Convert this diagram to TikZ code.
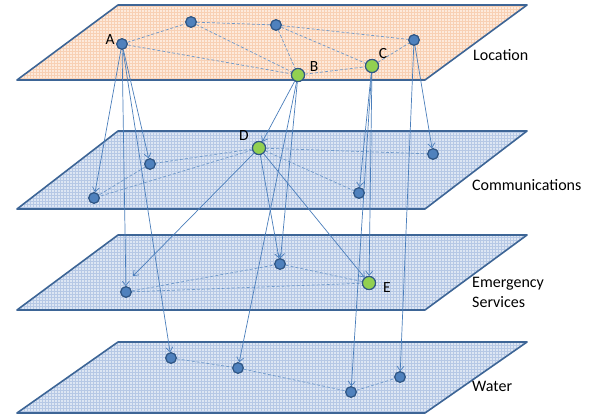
\documentclass[tikz,border=0pt]{standalone}
\usepackage{fontspec}
\setmainfont{Carlito}
\usetikzlibrary{arrows.meta}
\definecolor{edgecol}{HTML}{4A7EBB}
\definecolor{planeborder}{HTML}{3D6596}
\definecolor{orangefill}{HTML}{FDEADC}
\definecolor{orangegrid}{HTML}{F8D0B4}
\definecolor{bluefill}{HTML}{DDE6F3}
\definecolor{bluegrid}{HTML}{B6C8E5}
\definecolor{nodeblue}{HTML}{4F81BD}
\definecolor{nodegreen}{HTML}{92D050}
\definecolor{nodeborder}{HTML}{2F5685}
\newcommand{\drawlayer}[4]{%
  \begin{scope}
    \clip (17,#2) -- (425,#2) -- (527,#1) -- (118,#1) -- cycle;
    \fill[#3] (0,0) rectangle (600,417);
    \draw[#4,line width=0.3pt] (0,0) grid[step=3pt] (600,417);
  \end{scope}
  \draw[planeborder,line width=1.6pt,line join=round] (17,#2) -- (425,#2) -- (527,#1) -- (118,#1) -- cycle;
}
\begin{document}
\begin{tikzpicture}[x=1pt,y=-1pt,
  vnode/.style={circle,draw=nodeborder,line width=1.1pt,fill=nodeblue,minimum size=10.5pt,inner sep=0pt},
  gnode/.style={circle,draw=nodeborder,line width=1.1pt,fill=nodegreen,minimum size=13pt,inner sep=0pt},
  link/.style={draw=edgecol,line width=0.7pt,-{Straight Barb[length=4.5pt,width=7pt]}},
  intra/.style={draw=edgecol!80,line width=0.7pt,dash pattern=on 3pt off 2pt},
  lbl/.style={font=\fontsize{15.5}{18}\selectfont,text=black,inner sep=0pt},
  layername/.style={font=\fontsize{16}{20}\selectfont,text=black,inner sep=0pt,anchor=west,align=left},
]
\useasboundingbox (0,0) rectangle (600,417);
\fill[white] (0,0) rectangle (600,417);

\drawlayer{5}{80}{orangefill}{orangegrid}
\drawlayer{131}{209}{bluefill}{bluegrid}
\drawlayer{235}{310}{bluefill}{bluegrid}
\drawlayer{342}{413}{bluefill}{bluegrid}

% nodes
\node[vnode] (A)  at (122,44) {};
\node[vnode] (L1) at (191,22) {};
\node[vnode] (L2) at (276,25) {};
\node[gnode] (B)  at (298,75) {};
\node[gnode] (C)  at (372,66) {};
\node[vnode] (L3) at (414,40) {};
\node[gnode] (D)  at (259,148) {};
\node[vnode] (C1) at (150,164) {};
\node[vnode] (C2) at (94,198) {};
\node[vnode] (C3) at (359,193) {};
\node[vnode] (C4) at (433,154) {};
\node[vnode] (EM1) at (126,292) {};
\node[vnode] (EM2) at (280,264) {};
\node[gnode] (E)  at (369,283) {};
\node[vnode] (W1) at (171,358) {};
\node[vnode] (W2) at (238,368) {};
\node[vnode] (W3) at (351,392) {};
\node[vnode] (W4) at (400,377) {};
\coordinate (Dend) at (133,276);

% intra-layer dashed links
\foreach \a/\b in {A/L1,A/B,L1/L2,L1/B,L2/B,L2/C,L2/L3,B/C,C/L3,
                   D/C1,D/C2,C1/C2,D/C4,D/C3,
                   EM1/EM2,EM1/E,EM2/E,
                   W1/W2,W2/W3,W3/W4}
  \draw[intra] (\a) -- (\b);

% inter-layer links
\foreach \a/\b in {A/C2,A/C1,A/EM1,A/W1,B/D,B/EM2,B/W2,C/C3,C/E,C/W3,L3/C4,L3/W4,D/EM2,D/E}
  \draw[link] (\a) -- (\b);
\draw[link] (D) -- (Dend);

% redraw nodes on top
\foreach \n in {A,L1,L2,L3,C1,C2,C3,C4,EM1,EM2,W1,W2,W3,W4}
  \node[vnode] at (\n) {};
\foreach \n in {B,C,D,E}
  \node[gnode] at (\n) {};

% labels
\node[lbl] (lA) at (110,40) {A};
\node[lbl] (lB) at (314,67) {B};
\node[lbl] (lC) at (383,54) {C};
\node[lbl] (lD) at (244,136) {D};
\node[lbl] (lE) at (387,288) {E};

\node[layername] (nLoc) at (473,55) {Location};
\node[layername] (nCom) at (472,185) {Communications};
\node[layername] (nEm) at (472,292) {Emergency\\Services};
\node[layername] (nWat) at (472,386) {Water};
\end{tikzpicture}
\end{document}
